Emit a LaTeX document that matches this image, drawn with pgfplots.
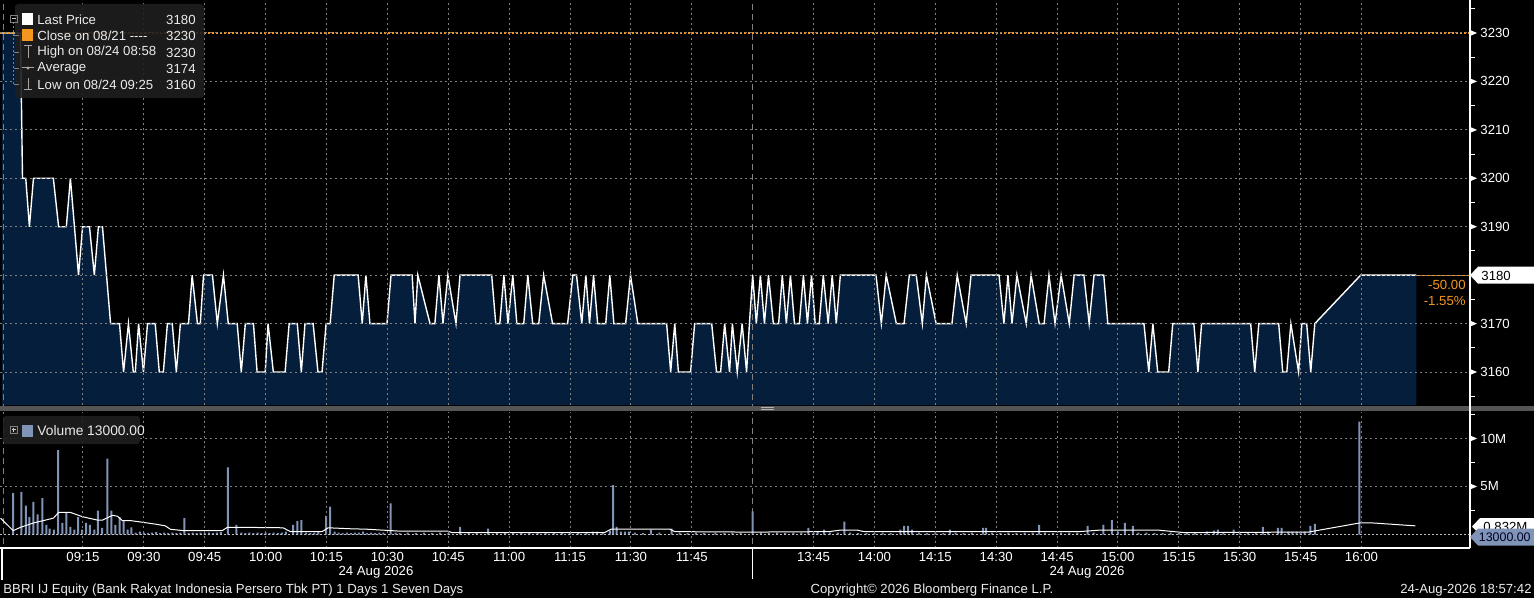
\documentclass[border=0pt]{standalone}
\usepackage{pgfplots}
\pgfplotsset{compat=1.18}
\usepackage{pgfplotstable}
\usepackage{fontspec}
\setmainfont{Liberation Sans}

\definecolor{bbnavy}{RGB}{4,30,60}
\definecolor{gridgray}{RGB}{128,128,128}
\definecolor{bborange}{RGB}{245,150,30}
\definecolor{volblue}{RGB}{128,148,184}
\definecolor{legbg}{RGB}{30,30,30}
\definecolor{sepgray}{RGB}{85,85,85}

% price, minutes of trading time from 09:00 (lunch 12:00-13:30 cut out)
\pgfplotstableread{
m p
-5.0 3230
-0.4 3230
0.1 3200
0.9 3200
1.8 3190
2.8 3200
7.7 3200
9.0 3190
10.9 3190
11.9 3200
13.9 3180
14.9 3190
16.6 3190
17.8 3180
18.8 3190
19.8 3190
21.8 3170
24.0 3170
25.0 3160
26.2 3170
27.4 3160
27.9 3160
28.7 3170
29.9 3160
30.9 3170
32.8 3170
33.8 3160
34.8 3160
35.8 3170
37.0 3170
38.0 3160
39.0 3170
41.0 3170
41.9 3180
43.2 3170
43.9 3170
44.7 3180
46.9 3180
48.1 3170
49.6 3180
50.8 3170
53.0 3170
54.0 3160
55.0 3170
57.0 3170
57.9 3160
59.9 3160
60.6 3170
61.9 3160
64.8 3160
65.8 3170
67.8 3170
68.8 3160
69.7 3170
71.7 3170
72.9 3160
73.9 3160
74.9 3170
75.9 3170
76.9 3180
82.8 3180
83.8 3170
84.7 3180
85.7 3170
89.9 3170
90.9 3180
96.1 3180
96.8 3170
97.5 3180
100.5 3170
101.7 3170
102.7 3180
103.7 3170
104.9 3180
106.9 3170
107.9 3180
115.7 3180
116.7 3170
117.7 3170
118.7 3180
119.7 3170
120.9 3180
121.9 3170
123.6 3170
124.6 3180
125.8 3170
127.3 3170
128.5 3180
130.7 3170
134.4 3170
135.7 3180
136.6 3180
137.9 3170
138.9 3180
139.8 3170
140.8 3180
141.8 3170
143.8 3170
144.8 3180
145.8 3170
148.7 3170
149.9 3180
151.7 3170
158.8 3170
159.8 3160
160.8 3170
161.7 3160
164.7 3160
165.7 3170
169.9 3170
171.1 3160
172.1 3160
173.1 3170
174.3 3160
175.0 3170
176.2 3160
177.4 3170
178.5 3160
179.2 3170
180.0 3180
180.9 3170
181.9 3180
182.9 3170
183.9 3180
185.1 3170
186.4 3170
187.3 3180
188.3 3170
189.3 3180
190.3 3170
191.5 3170
192.5 3180
193.5 3170
194.5 3180
195.4 3170
196.4 3170
197.4 3180
198.6 3170
199.6 3180
200.6 3170
201.6 3180
210.4 3180
211.7 3170
212.9 3180
215.4 3170
217.3 3170
218.6 3180
220.3 3180
221.8 3170
222.8 3180
225.2 3170
229.1 3170
230.4 3180
232.6 3170
233.8 3180
240.7 3180
241.9 3170
242.9 3180
243.9 3170
245.1 3180
247.4 3170
248.6 3180
250.6 3170
251.8 3170
253.0 3180
254.5 3170
256.0 3180
258.0 3170
259.2 3180
261.6 3180
262.9 3170
264.1 3180
266.5 3180
267.5 3170
276.4 3170
277.6 3160
278.6 3170
279.8 3160
282.5 3160
283.5 3170
288.7 3170
289.7 3160
290.6 3170
302.7 3170
303.7 3160
304.7 3170
309.6 3170
310.6 3160
311.6 3160
312.6 3170
314.5 3160
315.3 3170
316.5 3170
317.5 3160
318.5 3170
329.8 3180
343.5 3180
}\pricedata

\begin{document}
\begin{tikzpicture}[font=\fontsize{6.6}{7.6}\selectfont]
\begin{scope}[x=0.5pt,y=-0.5pt]
\fill[black] (0,0) rectangle (1534,598);
\end{scope}

\begin{axis}[at={(0pt,0pt)}, anchor=north west, scale only axis,
  width=735pt, height=202.5pt,
  xmin=-5.445, xmax=356.74, ymin=3153.19, ymax=3236.81,
  axis y line*=right, axis x line*=bottom,
  x axis line style={draw=none}, y axis line style={white, line width=0.6pt},
  xtick={15,30,45,60,75,90,105,120,135,150,165,195,210,225,240,255,270,285,300,315,330},
  xticklabels={},
  ytick={3160,3170,3180,3190,3200,3210,3220,3230},
  minor ytick={3155,3165,3175,3185,3195,3205,3215,3225,3235},
  major tick length=0pt, minor tick length=2.5pt, tick align=outside,
  minor tick style={white, line width=0.5pt},
  xmajorgrids, ymajorgrids,
  grid style={gridgray, dash pattern=on 1pt off 1.5pt, line width=0.5pt},
  yticklabel style={white, anchor=west, xshift=5pt, inner sep=0pt},
  /pgf/number format/1000 sep={}, /pgf/number format/assume math mode=true,
  axis on top]
\addplot[fill=bbnavy, draw=none] table[x=m, y=p] {\pricedata} \closedcycle;
\draw[gridgray, dash pattern=on 3pt off 2pt, line width=0.5pt] (axis cs:180,3150) -- (axis cs:180,3240);
\draw[gridgray, dash pattern=on 3pt off 2pt, line width=0.5pt] (axis cs:-4.7,3150) -- (axis cs:-4.7,3240);
\addplot[white, line width=0.7pt] table[x=m, y=p] {\pricedata};
\draw[bborange, line width=0.8pt, dash pattern=on 0.8pt off 1.2pt] (axis cs:-5.445,3230) -- (axis cs:356.74,3230);
\draw[bborange, line width=0.4pt] (axis cs:343.5,3180) -- (axis cs:356.74,3180);
\end{axis}

\begin{axis}[at={(0pt,-206pt)}, anchor=north west, scale only axis,
  width=735pt, height=68pt,
  xmin=-5.445, xmax=356.74, ymin=-1.406, ymax=12.76,
  axis y line*=right, axis x line*=bottom,
  axis line style={white, line width=0.6pt},
  xtick={15,30,45,60,75,90,105,120,135,150,165,195,210,225,240,255,270,285,300,315,330},
  xticklabels={09:15,09:30,09:45,10:00,10:15,10:30,10:45,11:00,11:15,11:30,11:45,13:45,14:00,14:15,14:30,14:45,15:00,15:15,15:30,15:45,16:00},
  ytick={5,10}, yticklabels={5M,10M},
  minor ytick={2.5,7.5,12.5},
  major tick length=0pt, minor tick length=2.5pt, tick align=outside,
  minor tick style={white, line width=0.5pt},
  xmajorgrids, ymajorgrids,
  grid style={gridgray, dash pattern=on 1pt off 1.5pt, line width=0.5pt},
  yticklabel style={white, anchor=west, xshift=5pt, inner sep=0pt},
  xticklabel style={white, anchor=north, inner sep=0pt, yshift=-1.8pt},
  axis on top]
\draw[gridgray, dash pattern=on 3pt off 2pt, line width=0.5pt] (axis cs:180,-2) -- (axis cs:180,13);
\draw[gridgray, dash pattern=on 3pt off 2pt, line width=0.5pt] (axis cs:-4.7,-2) -- (axis cs:-4.7,13);
\addplot[ybar, bar width=1pt, bar shift=0pt, fill=volblue, draw=none] coordinates {
(-2.2,4.3)(-0.2,4.45)(0.9,3.0)(1.8,1.8)(2.8,3.4)(3.8,2.1)(5.0,3.8)(6.0,1.0)(6.8,0.6)(7.8,0.5)
(8.9,8.8)(9.9,1.2)(10.9,2.3)(11.9,0.8)(12.9,0.5)(13.8,1.8)(14.8,0.5)(15.8,1.2)(16.7,1.0)(17.8,0.5)
(18.7,2.5)(19.7,0.7)(21.0,7.9)(22.0,2.5)(23.0,1.0)(24.0,1.8)(25.0,1.5)(26.0,0.5)(26.9,0.75)
(28,0.2)(29,0.3)(30,0.2)(31,0.15)(32,0.2)(33,0.25)(34,0.15)(35,0.2)(36,0.15)(37,0.2)(38,0.15)(39,0.2)
(40.0,1.7)(41,0.15)(42,0.2)(43,0.15)(44,0.2)(45,0.15)(46,0.2)(47,0.15)(48,0.2)(49,0.25)
(50.7,7.0)(52.8,1.0)(54,0.2)(55,0.15)(56,0.2)(57,0.15)(58,0.2)(59,0.15)(60,0.2)(61,0.15)(62,0.2)(63,0.15)(64,0.2)(65,0.3)
(66.8,1.0)(67.8,1.4)(68.8,1.5)(70,0.2)(71,0.15)(72,0.2)(73,0.3)
(74.9,1.95)(75.9,2.9)(77,0.3)(78,0.2)(79,0.15)(80,0.2)(81,0.15)(82,0.2)(83,0.2)(84,0.3)(85,0.15)(86,0.2)(87,0.15)(88,0.2)(89,0.2)
(90.8,3.25)(92,0.2)(93,0.15)(95,0.2)(97,0.15)(99,0.2)(101,0.15)(103,0.2)(105,0.15)(107.9,0.8)(110,0.15)(112,0.2)(114.8,0.6)
(117,0.15)(119,0.2)(121,0.15)(123,0.15)(125,0.2)(127,0.15)(129,0.2)(131,0.15)(133,0.2)(135,0.15)(137,0.2)(139,0.2)
(140.6,0.3)(141.6,0.3)(143,0.2)(144.8,0.4)(145.6,5.15)(146.5,0.8)(147.5,0.3)(148.5,0.3)(149.5,0.3)(151,0.2)(153,0.15)
(154.9,0.5)(157,0.2)(160.0,0.6)(162,0.2)(164,0.15)(166,0.2)(168,0.15)(170.8,0.2)(173,0.15)(175,0.2)(177,0.15)(180,2.4)
(182,0.2)(184,0.15)(186,0.2)(188,0.15)(190,0.2)(192,0.2)(193.7,0.7)(195,0.2)(196,0.25)(197.6,0.5)(199,0.2)(201,0.2)
(202.6,1.35)(204,0.2)(206,0.15)(208,0.15)(210,0.15)(212,0.2)(214,0.15)(216.4,0.5)(217.3,0.9)(218.3,0.9)(219.3,0.5)
(221,0.2)(223,0.15)(225,0.2)(227,0.15)(228.6,0.5)(230,0.2)(232,0.15)(234,0.2)(236.8,0.7)(237.5,0.7)(239,0.2)(241,0.15)
(243,0.2)(245,0.15)(247,0.2)(249,0.2)(250.6,1.0)(252,0.2)(254,0.15)(256,0.2)(258,0.2)(260,0.2)(262.5,0.9)(264,0.2)
(266.4,1.0)(268.5,1.5)(270,0.3)(271.7,1.2)(273.7,0.9)(275,0.2)(277,0.2)(279,0.15)(281,0.15)(283,0.2)(285,0.15)(287,0.2)
(289,0.15)(291.9,0.3)(293.6,0.4)(294.6,0.5)(296,0.2)(298.5,0.5)(300,0.2)(302,0.2)(304,0.2)(305.7,0.8)(307,0.3)
(309.4,0.7)(310.3,0.7)(312,0.3)(313,0.3)(314,0.3)(315,0.3)(316,0.3)(317.4,0.9)(318.5,1.1)(329.5,11.75)
};
\addplot[white, line width=0.5pt] coordinates {
(-5.3,1.7)(-2.2,0.4)(-0.4,0.75)(2.8,1.2)(7.7,1.7)(9.0,2.3)(11.9,2.3)(14.9,1.85)(18.6,1.5)(19.8,1.5)
(22.3,2.0)(23.5,1.9)(24.7,1.45)(26.7,1.45)(30.9,1.2)(33.3,1.05)(35.3,0.9)(36.5,0.55)(39.7,0.4)(49.3,0.4)
(50.6,0.75)(53.7,0.75)(64.3,0.7)(66.1,0.3)(73.9,0.3)(75.4,0.7)(80.8,0.6)(85.0,0.55)(93.1,0.35)(104.9,0.35)
(105.9,0.2)(143.5,0.2)(145.2,0.57)(159.5,0.57)(160.8,0.3)(179.7,0.25)(198.9,0.3)(201.4,0.45)(205.8,0.45)
(207.5,0.3)(260.4,0.3)(265.3,0.45)(280.1,0.45)(286.2,0.2)(316.9,0.25)(329.5,1.2)(332.9,1.2)(343.3,0.9)
};
\draw[white!75!black, line width=0.4pt, dash pattern=on 1pt off 1pt] (axis cs:-5.445,0.013) -- (axis cs:356.74,0.013);
\end{axis}

\begin{scope}[x=0.5pt,y=-0.5pt]
% panel separator
\fill[sepgray] (0,405.5) rectangle (1534,410.5);
\draw[white!70!black, line width=0.4pt] (761,407) -- (774,407) (761,409) -- (774,409);
\draw[white, line width=0.6pt] (1470,405) -- (1470,412);
% axis tick arrows
\foreach \yy in {33,81.4,129.9,178.3,226.7,323.6,372,438.5,486.5}
  \fill[white] (1470,\yy-3) -- (1477,\yy) -- (1470,\yy+3) -- cycle;
% last price tag
\fill[white] (1470,275.2) -- (1478,266.7) -- (1534,266.7) -- (1534,283.7) -- (1478,283.7) -- cycle;
\node[black, anchor=west, inner sep=0pt] at (1481,275.5) {3180};
\node[bborange, anchor=east, inner sep=0pt] at (1466,284.5) {-50.00};
\node[bborange, anchor=east, inner sep=0pt] at (1466,300.5) {-1.55\%};
% volume tags
\fill[white] (1472,526.5) -- (1480,518) -- (1534,518) -- (1534,535) -- (1480,535) -- cycle;
\node[black, anchor=west, inner sep=0pt] at (1483,526.5) {0.832M};
\fill[volblue] (1470,537) -- (1478,528.5) -- (1534,528.5) -- (1534,545.5) -- (1478,545.5) -- cycle;
\node[black!85!blue, anchor=west, inner sep=0pt, font=\fontsize{6.2}{7}\selectfont] at (1478.5,537.5) {13000.00};
% session marks under the time axis
\draw[white, line width=0.6pt] (752.7,548) -- (752.7,579) (2,548) -- (2,580);
\node[white, inner sep=0pt] at (376,572.5) {24 Aug 2026};
\node[white, inner sep=0pt] at (1087,572.5) {24 Aug 2026};
% price legend
\fill[legbg, opacity=0.9, rounded corners=1.5pt] (15,4) rectangle (204,98);
\draw[gridgray, line width=0.4pt] (10.5,15.5) rectangle (17,22);
\draw[white!80!black, line width=0.4pt] (12,18.75) -- (15.5,18.75);
\draw[gridgray, line width=0.4pt, dash pattern=on 1pt off 1pt] (13.75,22) -- (13.75,84);
\foreach \yy in {35,52,68,84} \draw[gridgray, line width=0.4pt] (13.75,\yy) -- (19,\yy);
\fill[white] (22,13) rectangle (33,25);
\fill[bborange] (22,29.5) rectangle (33,41.5);
\draw[white!65!black, line width=0.5pt] (24,46) -- (32,46) (28,46) -- (28,58);
\draw[white!65!black, line width=0.5pt] (22,68) -- (34,68);
\fill[white!65!black] (28,68) circle (1.6);
\draw[white!65!black, line width=0.5pt] (28,78) -- (28,90) (24,90) -- (32,90);
\begin{scope}[every node/.style={white!92!black, inner sep=0pt, font=\fontsize{6.6}{7.6}\selectfont}]
\node[anchor=west] at (37,19.5) {Last Price};
\node[anchor=east] at (196,19.5) {3180};
\node[anchor=west] at (37,36) {Close on 08/21 -{}-{}-{}-};
\node[anchor=east] at (196,36) {3230};
\node[anchor=west] at (37,52.5) {High on 08/24 08:58};
\node[anchor=east] at (196,52.5) {3230};
\node[anchor=west] at (37,68.5) {Average};
\node[anchor=east] at (196,68.5) {3174};
\node[anchor=west] at (37,84.5) {Low on 08/24 09:25};
\node[anchor=east] at (196,84.5) {3160};
\end{scope}
% volume legend
\fill[legbg, opacity=0.9, rounded corners=1.5pt] (3,416) rectangle (140,444);
\draw[gridgray, line width=0.4pt] (10.5,426.5) rectangle (17,433);
\draw[white!80!black, line width=0.4pt] (12,429.75) -- (15.5,429.75) (13.75,428) -- (13.75,431.5);
\fill[volblue] (22,424.5) rectangle (33,436.5);
\node[white!92!black, anchor=west, inner sep=0pt, font=\fontsize{6.9}{8}\selectfont] at (37,431) {Volume 13000.00};
% footer
\node[white!92!black, anchor=west, inner sep=0pt] at (3,590) {BBRI IJ Equity (Bank Rakyat Indonesia Persero Tbk PT) 1 Days 1 Seven Days};
\node[white!92!black, inner sep=0pt] at (932,590) {Copyright\textcopyright{} 2026 Bloomberg Finance L.P.};
\node[white!92!black, anchor=east, inner sep=0pt] at (1532,590) {24-Aug-2026 18:57:42};
\pgfresetboundingbox
\useasboundingbox (0,0) rectangle (1534,598);
\end{scope}
\end{tikzpicture}
\end{document}
